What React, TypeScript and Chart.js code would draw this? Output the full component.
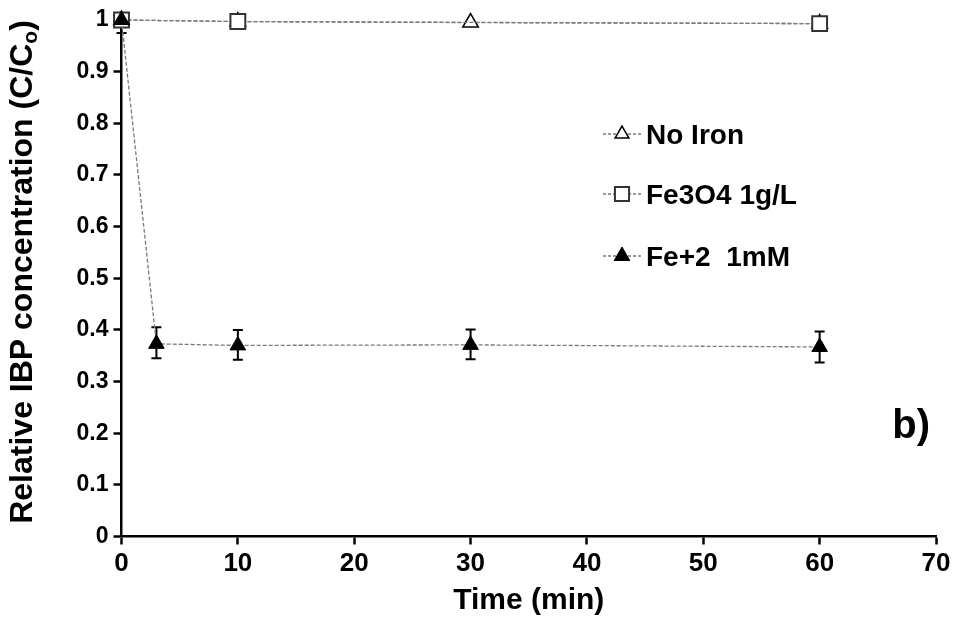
import React, { useEffect, useRef } from "react";
import { Chart, registerables } from "chart.js";

Chart.register(...registerables);

const times = [0, 3, 10, 30, 60];
const noIronX = [0, 10, 30, 60];
const noIronY = [1, 0.997, 0.995, 0.993];
const fe3o4X = [0, 10, 60];
const fe3o4Y = [1, 0.997, 0.993];
const fe2Y = [1, 0.373, 0.37, 0.371, 0.367];
const fe2ErrPlus = [0, 0.032, 0.03, 0.03, 0.03];
const fe2ErrMinus = [0.025, 0.028, 0.028, 0.028, 0.03];
const legendLabels = ["No Iron", "Fe3O4 1g/L", "Fe+2  1mM"];
const xTicks = [0, 10, 20, 30, 40, 50, 60, 70];

const FONT = "'Liberation Sans', Arial, sans-serif";
const LINE_COLOR = "#7a7a7a";

const extrasPlugin = {
  id: "extras",
  beforeDatasetsDraw(chart: any) {
    const ctx = chart.ctx;
    const xs = chart.scales.x;
    const ys = chart.scales.y;
    ctx.save();
    ctx.strokeStyle = "#000";
    ctx.lineWidth = 2;
    times.forEach((t, i) => {
      const px = xs.getPixelForValue(t);
      const top = ys.getPixelForValue(fe2Y[i] + fe2ErrPlus[i]);
      const bot = ys.getPixelForValue(fe2Y[i] - fe2ErrMinus[i]);
      ctx.beginPath();
      ctx.moveTo(px, top);
      ctx.lineTo(px, bot);
      if (fe2ErrPlus[i] > 0) {
        ctx.moveTo(px - 5, top);
        ctx.lineTo(px + 5, top);
      }
      ctx.moveTo(px - 5, bot);
      ctx.lineTo(px + 5, bot);
      ctx.stroke();
    });
    ctx.restore();
  },
  afterDraw(chart: any) {
    const ctx = chart.ctx;
    const area = chart.chartArea;
    ctx.save();
    // legend
    const rowsY = [134, 194, 256];
    const lx0 = 603;
    const lx1 = 642;
    const mx = 622;
    chart.data.datasets.forEach((ds: any) => {
      const y = rowsY[ds.legendIndex];
      ctx.save();
      ctx.strokeStyle = LINE_COLOR;
      ctx.lineWidth = 1.3;
      ctx.setLineDash([3, 2]);
      ctx.beginPath();
      ctx.moveTo(lx0, y);
      ctx.lineTo(lx1, y);
      ctx.stroke();
      ctx.restore();
      ctx.save();
      ctx.fillStyle = ds.pointBackgroundColor;
      ctx.strokeStyle = ds.pointBorderColor;
      ctx.lineWidth = ds.pointBorderWidth;
      const r = ds.legendRadius;
      ctx.beginPath();
      if (ds.pointStyle === "rect") {
        const s = Math.SQRT1_2 * r;
        ctx.rect(mx - s, y - s, 2 * s, 2 * s);
      } else {
        ctx.moveTo(mx, y - r);
        ctx.lineTo(mx + Math.sin((2 * Math.PI) / 3) * r, y - Math.cos((2 * Math.PI) / 3) * r);
        ctx.lineTo(mx + Math.sin((4 * Math.PI) / 3) * r, y - Math.cos((4 * Math.PI) / 3) * r);
        ctx.closePath();
      }
      ctx.fill();
      ctx.stroke();
      ctx.restore();
      ctx.fillStyle = "#000";
      ctx.font = `bold 28px ${FONT}`;
      ctx.textBaseline = "middle";
      ctx.textAlign = "left";
      ctx.fillText(legendLabels[ds.legendIndex], 646, y + 2);
    });
    // b) annotation
    ctx.fillStyle = "#000";
    ctx.font = `bold 40px ${FONT}`;
    ctx.textAlign = "right";
    ctx.textBaseline = "middle";
    ctx.fillText("b)", area.right - 6, 427);
    // y-axis title with subscript
    ctx.save();
    const main = "Relative IBP concentration (C/C";
    const sub = "o";
    const end = ")";
    ctx.font = `bold 32px ${FONT}`;
    const wMain = ctx.measureText(main).width;
    const wEnd = ctx.measureText(end).width;
    ctx.font = `bold 21px ${FONT}`;
    const wSub = ctx.measureText(sub).width;
    const total = wMain + wSub + wEnd;
    const cx = 23;
    const cy = 272;
    ctx.translate(cx, cy);
    ctx.rotate(-Math.PI / 2);
    ctx.textBaseline = "middle";
    ctx.textAlign = "left";
    let x = -total / 2;
    ctx.font = `bold 32px ${FONT}`;
    ctx.fillText(main, x, 0);
    x += wMain;
    ctx.font = `bold 21px ${FONT}`;
    ctx.fillText(sub, x, 8);
    x += wSub;
    ctx.font = `bold 32px ${FONT}`;
    ctx.fillText(end, x, 0);
    ctx.restore();
    ctx.restore();
  },
};

export default function App() {
  const ref = useRef<HTMLCanvasElement>(null);
  useEffect(() => {
    if (!ref.current) return;
    const chart = new Chart(ref.current, {
      type: "scatter",
      data: {
        datasets: [
          {
            label: legendLabels[2],
            legendIndex: 2,
            legendRadius: 9,
            data: times.map((t, i) => ({ x: t, y: fe2Y[i] })),
            showLine: true,
            clip: false,
            borderColor: LINE_COLOR,
            borderWidth: 1.3,
            borderDash: [4, 2],
            pointStyle: "triangle",
            pointRadius: 9,
            pointHoverRadius: 9,
            pointBackgroundColor: "#000",
            pointBorderColor: "#000",
            pointBorderWidth: 1,
            order: 0,
          } as any,
          {
            label: legendLabels[1],
            legendIndex: 1,
            legendRadius: 10,
            data: fe3o4X.map((t, i) => ({ x: t, y: fe3o4Y[i] })),
            showLine: true,
            clip: false,
            borderColor: LINE_COLOR,
            borderWidth: 1.3,
            borderDash: [4, 2],
            pointStyle: "rect",
            pointRadius: 10.5,
            pointHoverRadius: 10.5,
            pointBackgroundColor: "#fff",
            pointBorderColor: "#333",
            pointBorderWidth: 2,
            order: 1,
          } as any,
          {
            label: legendLabels[0],
            legendIndex: 0,
            legendRadius: 8,
            data: noIronX.map((t, i) => ({ x: t, y: noIronY[i] })),
            showLine: true,
            clip: false,
            borderColor: LINE_COLOR,
            borderWidth: 1.3,
            borderDash: [4, 2],
            pointStyle: "triangle",
            pointRadius: 9,
            pointHoverRadius: 9,
            pointBackgroundColor: "#fff",
            pointBorderColor: "#000",
            pointBorderWidth: 1.5,
            order: 2,
          } as any,
        ],
      },
      options: {
        animation: false,
        responsive: false,
        maintainAspectRatio: false,
        layout: { padding: { left: 0, right: 21, top: 20, bottom: 0 } },
        plugins: {
          legend: { display: false },
          tooltip: { enabled: false },
        },
        scales: {
          x: {
            type: "linear",
            min: 0,
            max: 70,
            afterBuildTicks: (scale: any) => {
              scale.ticks = xTicks.map((v) => ({ value: v }));
            },
            afterFit: (scale: any) => {
              scale.height = 95.5;
            },
            grid: {
              display: true,
              drawOnChartArea: false,
              drawTicks: true,
              tickLength: 8,
              tickWidth: 2.5,
              tickColor: "#000",
            },
            border: { display: true, color: "#000", width: 2.5 },
            ticks: {
              color: "#000",
              padding: 4,
              font: { family: FONT, size: 26, weight: "bold" },
              maxRotation: 0,
            },
            title: {
              display: true,
              text: "Time (min)",
              color: "#000",
              font: { family: FONT, size: 30, weight: "bold" },
              padding: { top: 0, bottom: 13 },
            },
          },
          y: {
            type: "linear",
            min: 0,
            max: 1,
            ticks: {
              stepSize: 0.1,
              color: "#000",
              padding: 5,
              font: { family: FONT, size: 23, weight: "bold" },
              callback: (v: any) => String(Number(Number(v).toFixed(1))),
            },
            afterFit: (scale: any) => {
              scale.width = 121.5;
            },
            grid: {
              display: true,
              drawOnChartArea: false,
              drawTicks: true,
              tickLength: 8,
              tickWidth: 2.5,
              tickColor: "#000",
            },
            border: { display: true, color: "#000", width: 2.5 },
          },
        },
      } as any,
      plugins: [extrasPlugin],
    });
    return () => chart.destroy();
  }, []);
  return (
    <div style={{ position: "fixed", left: 0, top: 0, width: 957, height: 632, background: "#fff" }}>
      <canvas ref={ref} width={957} height={632} style={{ width: 957, height: 632 }} />
    </div>
  );
}
